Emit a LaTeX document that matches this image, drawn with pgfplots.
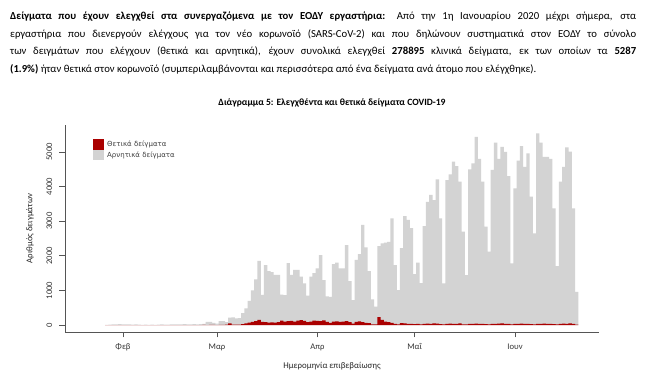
\documentclass[border=0pt]{standalone}
\usepackage{fontspec}
\setmainfont{Carlito}
\newfontfamily\dejavu{DejaVu Sans}
\usepackage{pgfplots}
\pgfplotsset{compat=1.18}
\usepackage{pgfplotstable}
\definecolor{posred}{RGB}{170,0,0}
\definecolor{neggray}{RGB}{211,211,211}
\definecolor{axgray}{RGB}{85,85,85}

\pgfplotstableread{
t tot pos
-34 5 0
-33 10 0
-32 20 0
-31 15 0
-30 25 0
-29 20 0
-28 15 0
-27 20 0
-26 10 0
-25 15 0
-24 10 0
-23 5 0
-22 10 0
-21 5 0
-20 10 0
-19 5 0
-18 10 0
-17 15 0
-16 10 0
-15 10 0
-14 15 0
-13 20 0
-12 15 0
-11 20 0
-10 25 0
-9 15 0
-8 20 0
-7 25 0
-6 20 0
-5 25 0
-4 30 1
-3 90 0
-2 90 1
-1 60 1
0 40 0
1 110 2
2 110 5
3 80 10
4 210 45
5 220 10
6 190 8
7 200 10
8 340 25
9 480 45
10 700 70
11 1000 90
12 1320 110
13 1850 150
14 870 90
15 1730 80
16 1560 70
17 1530 75
18 1450 70
19 1450 80
20 880 130
21 860 95
22 1790 110
23 1450 120
24 1590 95
25 1590 130
26 1400 140
27 1200 120
28 850 80
29 1400 100
30 1500 130
31 1640 120
32 2020 110
33 1300 135
34 830 90
35 810 60
36 1760 100
37 1800 105
38 1640 90
39 1640 100
40 2310 110
41 1270 80
42 720 40
43 1880 90
44 2050 105
45 2890 80
46 2240 60
47 1560 55
48 740 20
49 530 15
50 2280 230
51 2360 150
52 2380 100
53 2400 80
54 3080 60
55 1730 35
56 1010 20
57 2220 55
58 3150 45
59 3040 30
60 2800 35
61 1470 25
62 1800 30
63 1210 15
64 2860 35
65 3560 40
66 3760 30
67 3610 45
68 4210 40
69 3080 25
70 1200 15
71 4190 30
72 4350 40
73 4720 35
74 4590 30
75 4140 45
76 2700 20
77 1440 15
78 4500 35
79 4670 30
80 5440 40
81 4800 35
82 4140 30
83 2840 25
84 2120 15
85 4480 35
86 5270 30
87 4800 40
88 5150 45
89 5000 35
90 4300 30
91 1780 15
92 3950 30
93 4750 35
94 5170 40
95 4570 30
96 4960 35
97 3710 25
98 2650 15
99 5540 35
100 5270 30
101 4860 40
102 4860 35
103 4800 30
104 3370 25
105 1700 15
106 4140 30
107 4570 40
108 5130 35
109 5010 45
110 3370 30
111 960 10
}\datatab

\begin{document}
\begin{tikzpicture}[x=1pt,y=1pt]
\path (0,0) rectangle (645,387);
\node[anchor=north west, text width=626pt, align=justify, inner sep=0pt,
      font=\fontsize{10.7}{17.5}\selectfont] at (10,375)
{\hyphenpenalty=10000\exhyphenpenalty=10000
\textbf{Δείγματα που έχουν ελεγχθεί στα συνεργαζόμενα με τον ΕΟΔΥ εργαστήρια:} Από την 1η Ιανουαρίου 2020 μέχρι σήμερα, στα\linebreak
εργαστήρια που διενεργούν ελέγχους για τον νέο κορωνοϊό (SARS-CoV-2) και που δηλώνουν συστηματικά στον ΕΟΔΥ το σύνολο\linebreak
των δειγμάτων που ελέγχουν (θετικά και αρνητικά), έχουν συνολικά ελεγχθεί \textbf{278895} κλινικά δείγματα, εκ των οποίων τα \textbf{5287}\linebreak
\textbf{(1.9\%)} ήταν θετικά στον κορωνοϊό (συμπεριλαμβάνονται και περισσότερα από ένα δείγματα ανά άτομο που ελέγχθηκε).};
\begin{axis}[
  at={(65pt,55pt)}, anchor=south west,
  width=534pt, height=207pt, scale only axis,
  xmin=-46.9, xmax=117.9, ymin=-202, ymax=5780,
  axis x line*=bottom, axis y line*=left,
  axis line style={-, axgray, line width=0.8pt},
  tick align=outside, major tick length=5.5pt,
  tick style={axgray, line width=0.7pt},
  xtick={-29,0,31,61,92},
  xticklabels={Φεβ,Μαρ,Απρ,Μαΐ,Ιουν},
  ytick={0,1000,2000,3000,4000,5000},
  /pgf/number format/assume math mode=true,
  /pgf/number format/1000 sep={},
  ticklabel style={font=\fontsize{8.6}{9}\selectfont, text=black!80},
  yticklabel style={rotate=90, anchor=south, inner sep=0pt, yshift=7pt},
  xticklabel style={anchor=north, inner sep=0pt, yshift=-6pt},
  xlabel={Ημερομηνία επιβεβαίωσης},
  xlabel style={at={(axis description cs:0.5,-0.166)}, anchor=center,
    font=\fontsize{8.8}{10}\selectfont, text=black!85},
  ylabel={Αριθμός δειγμάτων},
  ylabel style={at={(axis description cs:-0.0655,0.5)}, anchor=center,
    font=\fontsize{8.8}{10}\selectfont, text=black!85},
  title={\textbf{Διάγραμμα 5: Ελεγχθέντα και θετικά δείγματα COVID-19}},
  title style={at={(axis description cs:0.5,1.08)}, anchor=center,
    font=\fontsize{9.6}{11}\selectfont},
  legend image code/.code={\fill[#1] (0pt,-5.25pt) rectangle (11pt,5.25pt);},
  reverse legend,
  legend style={at={(axis description cs:0.0524,0.932)}, anchor=north west,
    draw=none, fill=none, inner sep=0pt, row sep=0pt, column sep=3pt,
    font=\dejavu\fontsize{7}{7}\selectfont, text=black!75,
    nodes={inner sep=0pt}},
  legend cell align=left,
]
\addplot[ybar, bar width=1.04, bar shift=0pt, fill=neggray, draw=none]
  table[x=t, y=tot]{\datatab};
\addlegendentry{Αρνητικά δείγματα}
\addplot[ybar, bar width=1.04, bar shift=0pt, fill=posred, draw=none]
  table[x=t, y=pos]{\datatab};
\addlegendentry{Θετικά δείγματα}
\end{axis}
\end{tikzpicture}
\end{document}
